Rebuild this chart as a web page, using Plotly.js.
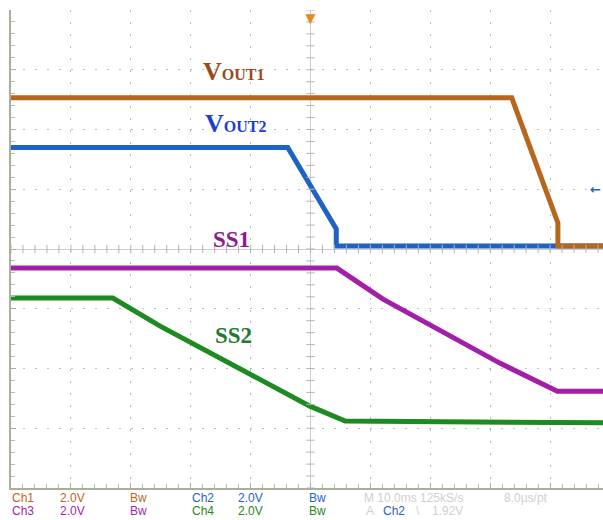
<!DOCTYPE html>
<html>
<head>
<meta charset="utf-8">
<script src="https://cdn.plot.ly/plotly-3.0.1.min.js"></script>
<style>
html,body{margin:0;padding:0;overflow:hidden;background:#fff;}
#chart{width:612px;height:520px;}
</style>
</head>
<body>
<div id="chart"></div>
<script>
// Time in ms (10 ms/div, trigger at 0), amplitude in screen divisions
var vout1_t = [-50, 33.6, 41.3, 41.3, 50];
var vout1_v = [2.53, 2.53, 0.435, 0.05, 0.05];

var vout2_t = [-50, -3.8, 4.3, 4.3, 50];
var vout2_v = [1.70, 1.70, 0.335, 0.05, 0.05];

var ss1_t = [-50, 4.4, 12.1, 23.3, 31.6, 41.2, 50];
var ss1_v = [-0.32, -0.32, -0.84, -1.46, -1.91, -2.38, -2.38];

var ss2_t = [-50, -33.0, -25.1, -16.8, -8.4, -0.1, 5.8, 50];
var ss2_v = [-0.82, -0.82, -1.29, -1.74, -2.18, -2.63, -2.88, -2.91];

var seriesNames = ["SS2", "SS1", "VOUT2", "VOUT1"];
var seriesColors = ["#1E8A22", "#A21FAA", "#1E63C4", "#B8661E"];

var statusRow1 = ["Ch1", "2.0V", "Bw", "Ch2", "2.0V", "Bw", "M 10.0ms 125kS/s", "8.0\u00b5s/pt"];
var statusRow2 = ["Ch3", "2.0V", "Bw", "Ch4", "2.0V", "Bw", "A", "Ch2", "\\", "1.92V"];

// ---- layout helpers (pixel -> paper) ----
var L = 11, T = 10, PW = 599, PH = 478;
function pxX(p){ return (p - L) / PW; }
function pxY(p){ return (T + PH - p) / PH; }

var traces = [
  {x: ss2_t, y: ss2_v, color: seriesColors[0], name: seriesNames[0]},
  {x: ss1_t, y: ss1_v, color: seriesColors[1], name: seriesNames[1]},
  {x: vout2_t, y: vout2_v, color: seriesColors[2], name: seriesNames[2]},
  {x: vout1_t, y: vout1_v, color: seriesColors[3], name: seriesNames[3]}
].map(function(s){
  return {x: s.x, y: s.y, name: s.name, type: 'scatter', mode: 'lines',
          line: {color: s.color, width: 5}, hoverinfo: 'skip', showlegend: false};
});

// center cross tick marks
var shapes = [];
for (var i = -25; i <= 25; i++) {
  shapes.push({type:'line', xref:'x', yref:'y', x0:i*2, x1:i*2, y0:-0.07, y1:0.07,
               line:{color:'#b4b4b4', width:1}});
}
for (var j = -20; j <= 20; j++) {
  shapes.push({type:'line', xref:'x', yref:'y', x0:-0.7, x1:0.7, y0:j*0.2, y1:j*0.2,
               line:{color:'#b4b4b4', width:1}});
}

var statusFont = "'Liberation Sans Narrow', 'Arial Narrow', 'Liberation Sans', sans-serif";
var ann = [];
function st(text, xpix, ypix, color){
  ann.push({text: text, xref:'paper', yref:'paper', x: pxX(xpix), y: pxY(ypix),
            xanchor:'left', yanchor:'middle', showarrow:false,
            font:{family: statusFont, size: 12, color: color}});
}
var r1c = ["#B8661E", "#B8661E", "#B8661E", "#1E63C4", "#1E63C4", "#1E63C4", "#cfcfcf", "#cfcfcf"];
var r1x = [10, 58, 128, 190, 236, 307, 362, 502];
statusRow1.forEach(function(t, k){ st(t, r1x[k], 498, r1c[k]); });
var r2c = ["#A21FAA", "#A21FAA", "#A21FAA", "#1E8A22", "#1E8A22", "#1E8A22", "#cfcfcf", "#1E63C4", "#cfcfcf", "#cfcfcf"];
var r2x = [10, 58, 128, 190, 236, 307, 364, 381, 414, 430];
statusRow2.forEach(function(t, k){ st(t, r2x[k], 511, r2c[k]); });

var serif = "'Liberation Serif', 'DejaVu Serif', serif";
function lbl(html, xpix, ypix, color, size){
  ann.push({text: html, xref:'paper', yref:'paper', x: pxX(xpix), y: pxY(ypix),
            xanchor:'left', yanchor:'middle', showarrow:false,
            font:{family: serif, size: size, color: color, weight: 'bold'}});
}
lbl('<b>V<span style="font-size:16px">OUT1</span></b>', 201, 72, '#9A4A1C', 26);
lbl('<b>V<span style="font-size:16px">OUT2</span></b>', 203, 123, '#1B3FD0', 26);
lbl('<b>SS1</b>', 211, 239, '#8E1A8E', 23);
lbl('<b>SS2</b>', 213, 335, '#1E7A2E', 23);

// trigger position marker (top) and trigger level arrow (right)
ann.push({text:'\u25BC', xref:'x', yref:'paper', x:0, y:1.012, xanchor:'center', yanchor:'top',
          showarrow:false, font:{size:17, color:'#E8891C'}});
ann.push({text:'<b>\u2190</b>', xref:'paper', yref:'y', x:pxX(603), y:1.0, xanchor:'right', yanchor:'middle',
          showarrow:false, font:{family:"'DejaVu Sans', sans-serif", size:13, color:'#1E63C4'}});

var layout = {
  width: 612, height: 520,
  margin: {l: L, r: 612 - L - PW, t: T, b: 520 - T - PH, pad: 0},
  paper_bgcolor: '#ffffff', plot_bgcolor: '#ffffff',
  showlegend: false,
  xaxis: {range: [-50, 50], dtick: 10, tick0: 0, showgrid: true, gridcolor: '#bdbdbd',
          griddash: '2px,9.98px', gridwidth: 1, zeroline: true, zerolinecolor: '#cdcdcd', zerolinewidth: 1,
          showticklabels: false, showline: true, linecolor: '#a9b09a', linewidth: 2,
          ticks: 'inside', ticklen: 5, tickcolor: '#a9b09a',
          minor: {dtick: 2, ticks: 'inside', ticklen: 4, tickcolor: '#b8bda8', showgrid: false},
          fixedrange: true},
  yaxis: {range: [-4, 4], dtick: 1, tick0: 0, showgrid: true, gridcolor: '#bdbdbd',
          griddash: '2px,9.95px', gridwidth: 1, zeroline: true, zerolinecolor: '#cdcdcd', zerolinewidth: 1,
          showticklabels: false, showline: true, linecolor: '#a9b09a', linewidth: 2,
          ticks: 'inside', ticklen: 5, tickcolor: '#a9b09a',
          minor: {dtick: 0.2, ticks: 'inside', ticklen: 4, tickcolor: '#b8bda8', showgrid: false},
          fixedrange: true},
  shapes: shapes,
  annotations: ann
};

Plotly.newPlot('chart', traces, layout, {displayModeBar: false, staticPlot: true});
</script>
</body>
</html>
